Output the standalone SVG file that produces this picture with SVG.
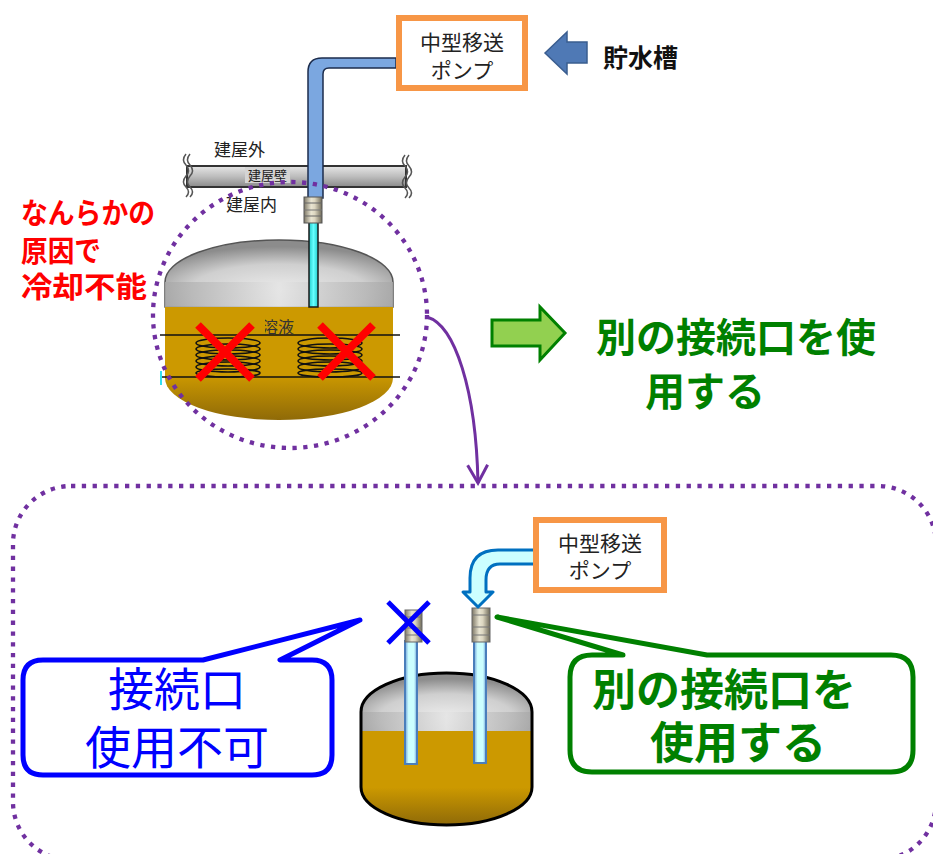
<svg xmlns="http://www.w3.org/2000/svg" width="933" height="854" viewBox="0 0 933 854">
  <style>
    .jp { font-family: "Noto Sans CJK JP", "Noto Sans", sans-serif; }
    .b { font-weight: bold; }
    .dots { fill: none; stroke: #7030A0; stroke-width: 4.3; stroke-dasharray: 4.3 6.5; }
    .pumpbox { fill: #ffffff; stroke: #F79646; stroke-width: 6; }
    .coil { fill: none; stroke: #111; stroke-width: 1.6; }
    .redx { stroke: #FF0000; stroke-width: 8; stroke-linecap: butt; }
    .bpipe { fill: url(#pipeLight); stroke: #4A7EBB; stroke-width: 2; }
  </style>
  <defs>
    <linearGradient id="wallGrad" x1="0" y1="0" x2="0" y2="1">
      <stop offset="0" stop-color="#e6e6e6"/>
      <stop offset="0.5" stop-color="#bdbdbd"/>
      <stop offset="1" stop-color="#8a8a8a"/>
    </linearGradient>
    <radialGradient id="domeGrad" cx="0.5" cy="0.75" r="0.65">
      <stop offset="0" stop-color="#ececec"/>
      <stop offset="0.6" stop-color="#cfcfcf"/>
      <stop offset="1" stop-color="#8c8c8c"/>
    </radialGradient>
    <linearGradient id="bandGrad" x1="0" y1="0" x2="1" y2="0">
      <stop offset="0" stop-color="#a8a8a8"/>
      <stop offset="0.5" stop-color="#e4e4e4"/>
      <stop offset="1" stop-color="#a8a8a8"/>
    </linearGradient>
    <linearGradient id="liquidGrad" x1="0" y1="0" x2="0" y2="1">
      <stop offset="0" stop-color="#CC9900"/>
      <stop offset="0.6" stop-color="#CC9900"/>
      <stop offset="1" stop-color="#8f6a08"/>
    </linearGradient>
    <linearGradient id="couplingGrad" x1="0" y1="0" x2="1" y2="0">
      <stop offset="0" stop-color="#7d7766"/>
      <stop offset="0.4" stop-color="#e9e5d2"/>
      <stop offset="0.6" stop-color="#dcd6c0"/>
      <stop offset="1" stop-color="#6e6958"/>
    </linearGradient>
    <linearGradient id="pipeLight" x1="0" y1="0" x2="1" y2="0">
      <stop offset="0" stop-color="#6fa0d8"/>
      <stop offset="0.3" stop-color="#ccffff"/>
      <stop offset="0.75" stop-color="#ccffff"/>
      <stop offset="1" stop-color="#6fa0d8"/>
    </linearGradient>
    <linearGradient id="cyanPipe" x1="0" y1="0" x2="1" y2="0">
      <stop offset="0" stop-color="#22cccc"/>
      <stop offset="0.5" stop-color="#66ffff"/>
      <stop offset="1" stop-color="#22cccc"/>
    </linearGradient>
    <clipPath id="liquidLabelClip">
      <rect x="265" y="312" width="40" height="24"/>
    </clipPath>
    <marker id="openHead" markerWidth="22" markerHeight="24" refX="19" refY="11" orient="auto" markerUnits="userSpaceOnUse" viewBox="0 0 22 22">
      <polyline points="1,1 19,11 1,21" fill="none" stroke="#7030A0" stroke-width="3"/>
    </marker>
  </defs>

  <rect width="933" height="854" fill="#ffffff"/>

  <!-- upper scene: building wall, pump line and tank -->
  <g id="wall">
    <rect x="187" y="166" width="219" height="21" fill="url(#wallGrad)" stroke="#333" stroke-width="2"/>
    <path d="M186,154 q-5,6 0,11 q5,6 0,11 q-5,6 0,11 q5,5 0,10" fill="none" stroke="#555" stroke-width="1.5"/>
    <path d="M190,154 q-5,6 0,11 q5,6 0,11 q-5,6 0,11 q5,5 0,10" fill="none" stroke="#555" stroke-width="1.5"/>
    <path d="M405,155 q-5,6 0,11 q5,6 0,11 q-5,6 0,11 q5,5 0,10" fill="none" stroke="#555" stroke-width="1.5"/>
    <path d="M409,155 q-5,6 0,11 q5,6 0,11 q-5,6 0,11 q5,5 0,10" fill="none" stroke="#555" stroke-width="1.5"/>
    <rect x="245" y="167" width="45" height="16" fill="#d4d4d4"/>
    <text class="jp" x="248" y="180" font-size="13" fill="#222">建屋壁</text>
    <text class="jp" x="214" y="156" font-size="17" fill="#222">建屋外</text>
    <text class="jp" x="226" y="211" font-size="17" fill="#222">建屋内</text>
  </g>

  <g id="tank-top">
    <!-- dome -->
    <path d="M165,282 A114,42 0 0 1 393,282 L393,307 L165,307 Z" fill="url(#domeGrad)" stroke="#555" stroke-width="1.5"/>
    <rect x="165" y="282" width="228" height="25" fill="url(#bandGrad)" opacity="0.85"/>
    <!-- liquid -->
    <path d="M165,307 L393,307 L393,378 A114,42 0 0 1 165,378 Z" fill="url(#liquidGrad)"/>
    <!-- coil lead lines -->
    <line x1="160" y1="335" x2="400" y2="335" stroke="#111" stroke-width="1.5"/>
    <line x1="160" y1="377" x2="400" y2="377" stroke="#111" stroke-width="1.5"/>
    <line x1="161" y1="371" x2="161" y2="385" stroke="#33e0f0" stroke-width="2"/>
    <!-- coils -->
    <g class="coil">
      <ellipse cx="228" cy="343" rx="32" ry="5"/>
      <ellipse cx="228" cy="349" rx="32" ry="5"/>
      <ellipse cx="228" cy="355" rx="32" ry="5"/>
      <ellipse cx="228" cy="361" rx="32" ry="5"/>
      <ellipse cx="228" cy="367" rx="32" ry="5"/>
      <ellipse cx="228" cy="373" rx="32" ry="4"/>
      <ellipse cx="330" cy="343" rx="32" ry="5"/>
      <ellipse cx="330" cy="349" rx="32" ry="5"/>
      <ellipse cx="330" cy="355" rx="32" ry="5"/>
      <ellipse cx="330" cy="361" rx="32" ry="5"/>
      <ellipse cx="330" cy="367" rx="32" ry="5"/>
      <ellipse cx="330" cy="373" rx="32" ry="4"/>
    </g>
    <text class="jp" x="262" y="333" font-size="16" fill="#333" clip-path="url(#liquidLabelClip)">溶液</text>
    <!-- failed cooling marks -->
    <line class="redx" x1="198" y1="325" x2="252" y2="379"/>
    <line class="redx" x1="252" y1="325" x2="198" y2="379"/>
    <line class="redx" x1="320" y1="325" x2="373" y2="378"/>
    <line class="redx" x1="373" y1="325" x2="320" y2="378"/>
  </g>

  <g id="pipe-top">
    <path d="M396,58 L322,58 Q308,58 308,72 L308,198 L323,198 L323,74 Q323,68 329,68 L396,68 Z" fill="#7BA7E0" stroke="#1c2c4c" stroke-width="1.5"/>
    <rect x="309" y="222" width="9" height="85" fill="url(#cyanPipe)" stroke="#1a1a1a" stroke-width="1.5"/>
    <rect x="304" y="197" width="18" height="26" fill="url(#couplingGrad)" stroke="#555" stroke-width="1"/>
    <line x1="304" y1="203" x2="322" y2="203" stroke="#666" stroke-width="1"/>
    <line x1="304" y1="210" x2="322" y2="210" stroke="#777" stroke-width="1"/>
    <line x1="304" y1="216" x2="322" y2="216" stroke="#666" stroke-width="1"/>
  </g>

  <g id="pump-top">
    <rect class="pumpbox" x="399" y="18" width="126" height="70"/>
    <text class="jp" x="462" y="50" font-size="21" fill="#222" text-anchor="middle">中型移送</text>
    <text class="jp" x="462" y="78" font-size="21" fill="#222" text-anchor="middle">ポンプ</text>
  </g>

  <g id="reservoir">
    <polygon points="545,53 567,32 567,42 587,42 587,63 567,63 567,74" fill="#4F79B5" stroke="#3a5d8f" stroke-width="1.5"/>
    <text class="jp b" x="603" y="67" font-size="25" fill="#111">貯水槽</text>
  </g>

  <g id="cause-note">
    <text class="jp b" x="21" y="224" font-size="29" fill="#FF0000" textLength="134" lengthAdjust="spacingAndGlyphs">なんらかの</text>
    <text class="jp b" x="21" y="262" font-size="29" fill="#FF0000" textLength="80" lengthAdjust="spacingAndGlyphs">原因で</text>
    <text class="jp b" x="21" y="298" font-size="29" fill="#FF0000" textLength="126" lengthAdjust="spacingAndGlyphs">冷却不能</text>
  </g>

  <g id="focus-circle">
    <ellipse class="dots" cx="290" cy="315" rx="137" ry="133"/>
  </g>

  <g id="action-top">
    <polygon points="492,320 540,320 540,307 565,333 540,360 540,346 492,346" fill="#92D050" stroke="#008000" stroke-width="3"/>
    <text class="jp b" x="736" y="352" font-size="40" fill="#008000" text-anchor="middle">別の接続口を使</text>
    <text class="jp b" x="705" y="406" font-size="40" fill="#008000" text-anchor="middle">用する</text>
  </g>

  <!-- lower scene: alternative connection -->
  <g id="detail-frame">
    <rect class="dots" x="13" y="486" width="923" height="374" rx="58" ry="58"/>
  </g>

  <g id="tank-bottom">
    <path d="M361,712 A85.5,39 0 0 1 532,712 L532,731 L361,731 Z" fill="url(#domeGrad)"/>
    <rect x="361" y="712" width="171" height="19" fill="url(#bandGrad)" opacity="0.8"/>
    <path d="M361,731 L532,731 L532,787 A85.5,38 0 0 1 361,787 Z" fill="url(#liquidGrad)"/>
    <path d="M361,712 A85.5,39 0 0 1 532,712 L532,787 A85.5,38 0 0 1 361,787 Z" fill="none" stroke="#000" stroke-width="3"/>
  </g>

  <g id="ports">
    <rect class="bpipe" x="405" y="641" width="12" height="123"/>
    <rect class="bpipe" x="474" y="641" width="12" height="122"/>
    <rect x="405" y="610" width="17" height="32" fill="url(#couplingGrad)" stroke="#666" stroke-width="1"/>
    <line x1="405" y1="617" x2="422" y2="617" stroke="#777" stroke-width="1"/>
    <line x1="405" y1="628" x2="422" y2="628" stroke="#777" stroke-width="1"/>
    <line x1="405" y1="635" x2="422" y2="635" stroke="#777" stroke-width="1"/>
    <rect x="472" y="608" width="18" height="34" fill="url(#couplingGrad)" stroke="#666" stroke-width="1"/>
    <line x1="472" y1="615" x2="490" y2="615" stroke="#777" stroke-width="1"/>
    <line x1="472" y1="627" x2="490" y2="627" stroke="#777" stroke-width="1"/>
    <line x1="472" y1="635" x2="490" y2="635" stroke="#777" stroke-width="1"/>
    <!-- blocked port -->
    <line x1="388" y1="602" x2="429" y2="643" stroke="#0000FF" stroke-width="5"/>
    <line x1="429" y1="602" x2="388" y2="643" stroke="#0000FF" stroke-width="5"/>
  </g>

  <g id="pump-bottom">
    <path d="M536,550 L498,550 Q470,550 470,578 L470,592 L463,592 L478,607 L493,592 L486,592 L486,580 Q486,564 500,564 L536,564 Z" fill="#CCFFFF" stroke="#0070C0" stroke-width="3" stroke-linejoin="round"/>
    <rect class="pumpbox" x="536" y="520" width="128" height="70"/>
    <text class="jp" x="600" y="551" font-size="21" fill="#222" text-anchor="middle">中型移送</text>
    <text class="jp" x="600" y="578" font-size="21" fill="#222" text-anchor="middle">ポンプ</text>
  </g>

  <g id="callout-unusable">
    <path d="M43,660 L203,660 L360,620 L280,660 L312,660 Q332,660 332,680 L332,755 Q332,775 312,775 L43,775 Q23,775 23,755 L23,680 Q23,660 43,660 Z" fill="#ffffff" stroke="#0000FF" stroke-width="5" stroke-linejoin="round"/>
    <text class="jp" x="177" y="706" font-size="46" fill="#0000FF" text-anchor="middle">接続口</text>
    <text class="jp" x="177" y="764" font-size="46" fill="#0000FF" text-anchor="middle">使用不可</text>
  </g>

  <g id="callout-use-other">
    <path d="M592,655 L623,655 L497,617 L707,655 L891,655 Q913,655 913,677 L913,750 Q913,772 891,772 L592,772 Q570,772 570,750 L570,677 Q570,655 592,655 Z" fill="#ffffff" stroke="#008000" stroke-width="5" stroke-linejoin="round"/>
    <text class="jp b" x="724" y="706" font-size="44" fill="#008000" text-anchor="middle">別の接続口を</text>
    <text class="jp b" x="738" y="759" font-size="44" fill="#008000" text-anchor="middle">使用する</text>
  </g>

  <g id="connectors">
    <path d="M427,317 C455,325 476,390 478,483" fill="none" stroke="#7030A0" stroke-width="3" marker-end="url(#openHead)"/>
  </g>
</svg>
